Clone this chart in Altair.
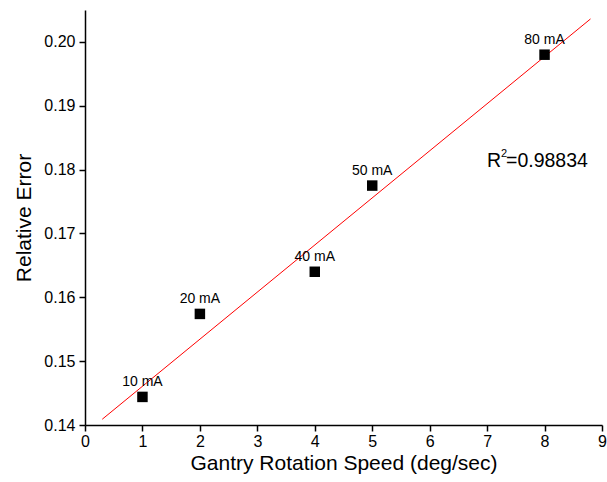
import altair as alt
import pandas as pd

speed = [1, 2, 4, 5, 8]
rel_error = [0.1444, 0.1574, 0.1640, 0.1775, 0.1980]
current = ["10 mA", "20 mA", "40 mA", "50 mA", "80 mA"]
fit_x = [0.3, 8.8]
fit_y = [0.1409, 0.2036]
x_ticks = [0, 0.5, 1, 1.5, 2, 2.5, 3, 3.5, 4, 4.5, 5, 5.5, 6, 6.5, 7, 7.5, 8, 8.5, 9]
y_ticks = [0.14, 0.145, 0.15, 0.155, 0.16, 0.165, 0.17, 0.175, 0.18, 0.185,
           0.19, 0.195, 0.20]

pts = pd.DataFrame({"speed": speed, "err": rel_error, "cur": current})
fit = pd.DataFrame({"speed": fit_x, "err": fit_y})

FONT = "Liberation Sans"
xs = alt.Scale(domain=[0, 9], nice=False, zero=False)
ys = alt.Scale(domain=[0.14, 0.205], nice=False, zero=False)

x_major = "abs(datum.value - round(datum.value)) < 1e-6"
y_major = "abs(datum.value*100 - round(datum.value*100)) < 1e-6"

common = dict(grid=False, domainColor="black", domainWidth=1.5, tickColor="black",
              tickWidth=1.5, labelColor="black", labelFont=FONT, titleFont=FONT,
              titleColor="black", titleFontWeight="normal")

x_axis = alt.Axis(values=x_ticks,
                  tickSize={"condition": {"test": x_major, "value": 6}, "value": 4},
                  labelExpr=f"({x_major}) ? format(datum.value, 'd') : ''",
                  labelFontSize=16, labelPadding=2,
                  title="Gantry Rotation Speed (deg/sec)", titleFontSize=21,
                  titlePadding=3, labelFlush=False, labelOverlap=False, **common)
y_axis = alt.Axis(values=y_ticks,
                  tickSize={"condition": {"test": y_major, "value": 6}, "value": 4},
                  labelExpr=f"({y_major}) ? format(datum.value, '.2f') : ''",
                  labelFontSize=16, labelPadding=4, labelOverlap=False,
                  title="Relative Error", titleFontSize=21,
                  titlePadding=9, **common)

base_pts = alt.Chart(pts)

line = alt.Chart(fit).mark_line(color="red", strokeWidth=1).encode(
    x=alt.X("speed:Q", scale=xs, axis=x_axis),
    y=alt.Y("err:Q", scale=ys, axis=y_axis),
)

squares = base_pts.mark_square(size=110, color="black", opacity=1).encode(
    x=alt.X("speed:Q", scale=xs),
    y=alt.Y("err:Q", scale=ys),
)

labels = base_pts.mark_text(font=FONT, fontSize=14, dy=-15, color="black").encode(
    x=alt.X("speed:Q", scale=xs),
    y=alt.Y("err:Q", scale=ys),
    text="cur:N",
)

r_main = alt.Chart(pd.DataFrame({"t": ["R"]})).mark_text(
    font=FONT, fontSize=19.5, align="left", baseline="alphabetic", color="black"
).encode(x=alt.value(402), y=alt.value(157), text="t:N")
r_sup = alt.Chart(pd.DataFrame({"t": ["2"]})).mark_text(
    font=FONT, fontSize=11, align="left", baseline="alphabetic", color="black"
).encode(x=alt.value(416), y=alt.value(147), text="t:N")
r_val = alt.Chart(pd.DataFrame({"t": ["=0.98834"]})).mark_text(
    font=FONT, fontSize=19.5, align="left", baseline="alphabetic", color="black"
).encode(x=alt.value(421), y=alt.value(157), text="t:N")

chart = alt.layer(line, squares, labels, r_main, r_sup, r_val).properties(
    width=517, height=415,
    padding={"left": 85, "top": 10, "right": 5, "bottom": 57},
    autosize=alt.AutoSizeParams(type="none"),
    background="white",
).configure_view(stroke=None)

chart.save("out.html", embed_options={"renderer": "svg", "actions": False})
